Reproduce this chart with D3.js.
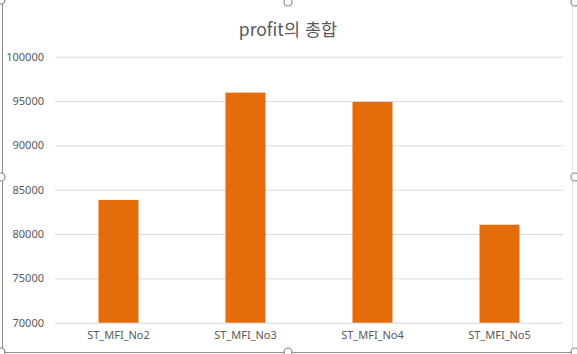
<!DOCTYPE html>
<html lang="ko">
  <head>
    <meta charset="UTF-8" />
    <title>profit의 총합</title>
    <script src="https://d3js.org/d3.v7.min.js"></script>
    <style>
      html,
      body {
        margin: 0;
        padding: 0;
        background-color: #fff;
        font-family: "Noto Sans CJK KR", "Noto Sans", sans-serif;
      }
      svg {
        display: block;
      }
    </style>
  </head>
  <body>
    <svg id="chart"></svg>
    <script>
      // data
      const categories = ["ST_MFI_No2", "ST_MFI_No3", "ST_MFI_No4", "ST_MFI_No5"];
      const profits = [83850, 95950, 94900, 81050];
      const yTicks = [70000, 75000, 80000, 85000, 90000, 95000, 100000];

      const width = 577;
      const height = 354;
      const plot = { left: 55, right: 563, top: 56.7, bottom: 322.7 };

      const svg = d3.select("#chart").attr("width", width).attr("height", height);

      // chart frame (as selected in the spreadsheet)
      svg.append("line")
        .attr("x1", 2.5).attr("x2", 2.5).attr("y1", 0).attr("y2", 352.5)
        .attr("stroke", "#8c8c8c");
      svg.append("line")
        .attr("x1", 2.5).attr("x2", 572.5).attr("y1", 352.5).attr("y2", 352.5)
        .attr("stroke", "#8c8c8c");
      svg.append("line")
        .attr("x1", 572.5).attr("x2", 572.5).attr("y1", 0).attr("y2", 352.5)
        .attr("stroke", "#e3e3e3");

      const x = d3.scaleBand()
        .domain(categories)
        .range([plot.left, plot.right])
        .paddingInner(0.685)
        .paddingOuter(0.3425);

      const y = d3.scaleLinear()
        .domain([70000, 100000])
        .range([plot.bottom, plot.top]);

      // gridlines + y labels
      const yAxis = svg.append("g")
        .attr("transform", `translate(${plot.left},0)`)
        .call(d3.axisLeft(y).tickValues(yTicks).tickSize(-(plot.right - plot.left)).tickPadding(11).tickFormat(d3.format("d")));
      yAxis.select(".domain").remove();
      yAxis.selectAll(".tick line").attr("stroke", "#d9d9d9");
      yAxis.selectAll(".tick text")
        .attr("fill", "#595959")
        .attr("font-size", "11px")
        .attr("font-family", "'Noto Sans', sans-serif");

      // bars
      svg.append("g")
        .selectAll("rect")
        .data(profits)
        .enter()
        .append("rect")
        .attr("x", (d, i) => x(categories[i]))
        .attr("width", x.bandwidth())
        .attr("y", (d) => y(d))
        .attr("height", (d) => y(70000) - y(d))
        .attr("fill", "#e46c0a");

      // category labels
      const xAxis = svg.append("g")
        .attr("transform", `translate(0,${plot.bottom})`)
        .call(d3.axisBottom(x).tickSize(0).tickPadding(9));
      xAxis.select(".domain").remove();
      xAxis.selectAll(".tick text")
        .attr("fill", "#595959")
        .attr("font-size", "11px")
        .attr("font-family", "'Noto Sans', sans-serif");

      // title
      svg.append("text")
        .attr("x", 288)
        .attr("y", 36)
        .attr("text-anchor", "middle")
        .attr("font-size", "17.5px")
        .attr("fill", "#595959")
        .text("profit의 총합");

      // selection handles
      const handles = [
        [1, 0], [288, 2], [575, 2],
        [1, 177], [575, 177],
        [1, 352], [288, 352], [575, 352]
      ];
      svg.append("g")
        .selectAll("circle")
        .data(handles)
        .enter()
        .append("circle")
        .attr("cx", (d) => d[0])
        .attr("cy", (d) => d[1])
        .attr("r", 4)
        .attr("fill", "#fff")
        .attr("stroke", "#8c8c8c")
        .attr("stroke-width", 1.2);
    </script>
  </body>
</html>
